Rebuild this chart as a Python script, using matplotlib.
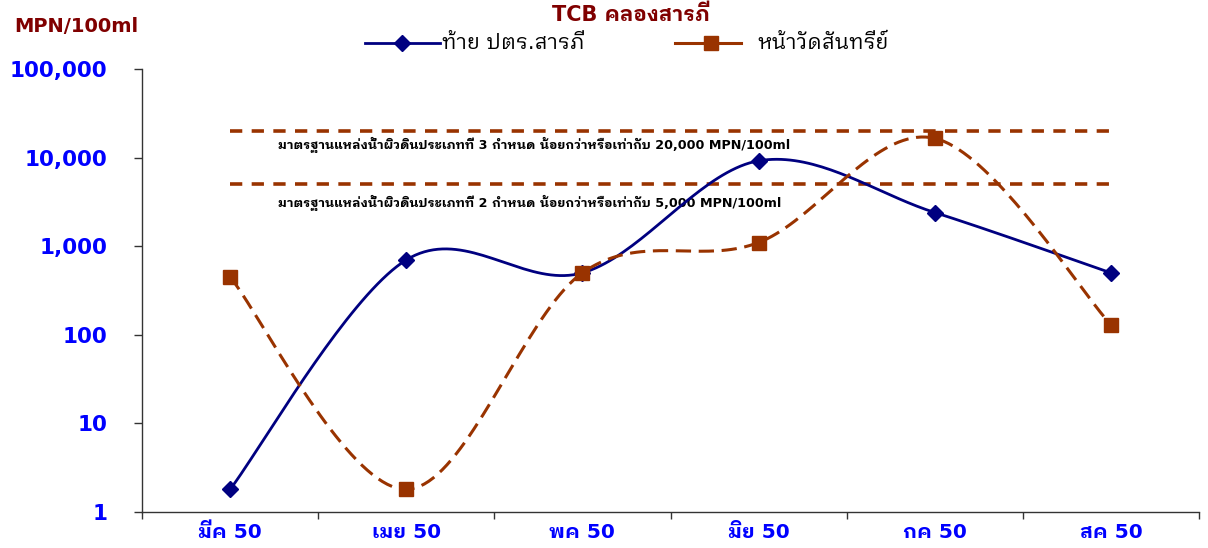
import matplotlib
matplotlib.use("Agg")
import matplotlib.pyplot as plt
import numpy as np
from matplotlib.lines import Line2D
from matplotlib.ticker import FixedLocator, FuncFormatter, NullLocator

# data (MPN/100ml)
months = ["มีค 50", "เมย 50", "พค 50", "มิย 50", "กค 50", "สค 50"]
tai_pator = [1.8, 700, 500, 9200, 2400, 500]        # ท้าย ปตร.สารภี
wat_santhari = [450, 1.8, 500, 1100, 16500, 130]    # หน้าวัดสันทรีย์
series_names = ["ท้าย ปตร.สารภี", "หน้าวัดสันทรีย์"]
std_class3 = 20000
std_class2 = 5000
y_ticks = [1, 10, 100, 1000, 10000, 100000]

THAI = ["DejaVu Sans", "IBM Plex Sans Thai Looped", "Noto Sans Thai Looped"]
BLUE_TXT = "#0000FF"
DARK_RED = "#800000"
NAVY = "#000080"
BROWN = "#993300"
W, H = 1208, 548


def smooth(xs, ys, n=40):
    # Excel-like smoothed line: Catmull-Rom bezier drawn in (x, log y) space
    xs = np.asarray(xs, float)
    ly = np.log10(np.asarray(ys, float))
    px = np.concatenate([[xs[0]], xs, [xs[-1]]])
    py = np.concatenate([[ly[0]], ly, [ly[-1]]])
    out_x, out_y = [], []
    t = np.linspace(0, 1, n)
    for i in range(1, len(px) - 2):
        p0 = np.array([px[i], py[i]])
        p3 = np.array([px[i + 1], py[i + 1]])
        c1 = p0 + (np.array([px[i + 1], py[i + 1]]) - np.array([px[i - 1], py[i - 1]])) / 6
        c2 = p3 - (np.array([px[i + 2], py[i + 2]]) - np.array([px[i], py[i]])) / 6
        b = ((1 - t) ** 3)[:, None] * p0 + (3 * (1 - t) ** 2 * t)[:, None] * c1 \
            + (3 * (1 - t) * t ** 2)[:, None] * c2 + (t ** 3)[:, None] * p3
        out_x.extend(b[:, 0])
        out_y.extend(b[:, 1])
    return np.array(out_x), 10 ** np.array(out_y)


fig = plt.figure(figsize=(W / 100, H / 100), dpi=100)
ax = fig.add_axes([142 / W, 1 - 512 / H, (1199 - 142) / W, (512 - 69) / H])

x = np.arange(len(months))

# standard lines
ax.plot([x[0], x[-1]], [std_class3] * 2, color=BROWN, lw=2.6, dashes=(3.4, 2.6))
ax.plot([x[0], x[-1]], [std_class2] * 2, color=BROWN, lw=2.6, dashes=(3.4, 2.6))
ax.text(0.27, 13800, "มาตรฐานแหล่งน้ำผิวดินประเภทที่ 3 กำหนด น้อยกว่าหรือเท่ากับ 20,000 MPN/100ml",
        family=THAI, fontsize=9.2, fontweight="bold", va="center", ha="left")
ax.text(0.27, 3050, "มาตรฐานแหล่งน้ำผิวดินประเภทที่ 2 กำหนด น้อยกว่าหรือเท่ากับ 5,000 MPN/100ml",
        family=THAI, fontsize=9.2, fontweight="bold", va="center", ha="left")

# series
sx, sy = smooth(x, tai_pator)
ax.plot(sx, sy, color=NAVY, lw=2.0, zorder=3)
ax.plot(x, tai_pator, ls="none", marker="D", ms=8.5, color=NAVY, zorder=4)
ox, oy = smooth(x, wat_santhari)
ax.plot(ox, oy, color=BROWN, lw=2.2, dashes=(5, 2.5), zorder=3)
ax.plot(x, wat_santhari, ls="none", marker="s", ms=10, color=BROWN, zorder=4)

ax.set_yscale("log")
ax.set_ylim(1, 100000)
ax.set_xlim(-0.5, len(months) - 0.5)

ax.yaxis.set_major_locator(FixedLocator(y_ticks))
ax.yaxis.set_minor_locator(NullLocator())
ax.yaxis.set_major_formatter(FuncFormatter(lambda v, p: f"{v:,.0f}"))
ax.tick_params(axis="y", which="major", direction="out", length=6, width=1, color="#333333",
               pad=19, labelsize=15.5, labelcolor=BLUE_TXT)
for lab in ax.get_yticklabels():
    lab.set_fontweight("bold")
    lab.set_family("DejaVu Sans")

ax.xaxis.set_major_locator(FixedLocator(np.arange(-0.5, len(months), 1.0)))
ax.xaxis.set_major_formatter(FuncFormatter(lambda v, p: ""))
ax.set_xticks(x, months, minor=True)
ax.tick_params(axis="x", which="major", direction="out", length=5, width=1, color="#333333")
ax.tick_params(axis="x", which="minor", length=0, pad=8, labelsize=14.5, labelcolor=BLUE_TXT)
for lab in ax.get_xticklabels(minor=True):
    lab.set_fontweight("bold")
    lab.set_family(THAI)

for s in ["top", "right"]:
    ax.spines[s].set_visible(False)
for s in ["left", "bottom"]:
    ax.spines[s].set_color("#333333")
    ax.spines[s].set_linewidth(1)

# titles
fig.text(631 / W, 1 - 15 / H, "TCB คลองสารภี", family=THAI, fontsize=15, fontweight="bold",
         color=DARK_RED, ha="center", va="center")
fig.text(14 / W, 1 - 27 / H, "MPN/100ml", family=THAI, fontsize=14, fontweight="bold",
         color=DARK_RED, ha="left", va="center")

# legend, drawn by hand to match the spacing
ly = 1 - 43 / H
fig.add_artist(Line2D([365 / W, 402 / W, 440 / W], [ly] * 3, transform=fig.transFigure,
                      color=NAVY, lw=2.0, marker="D", ms=8.5, markevery=[1]))
fig.text(442 / W, ly, series_names[0], family=THAI, fontsize=15, ha="left", va="center")
fig.add_artist(Line2D([675 / W, 711 / W, 741 / W], [ly] * 3, transform=fig.transFigure,
                      color=BROWN, lw=2.2, marker="s", ms=10, markevery=[1]))
fig.text(757 / W, ly, series_names[1], family=THAI, fontsize=15, ha="left", va="center")

fig.savefig("out.png", dpi=100)
